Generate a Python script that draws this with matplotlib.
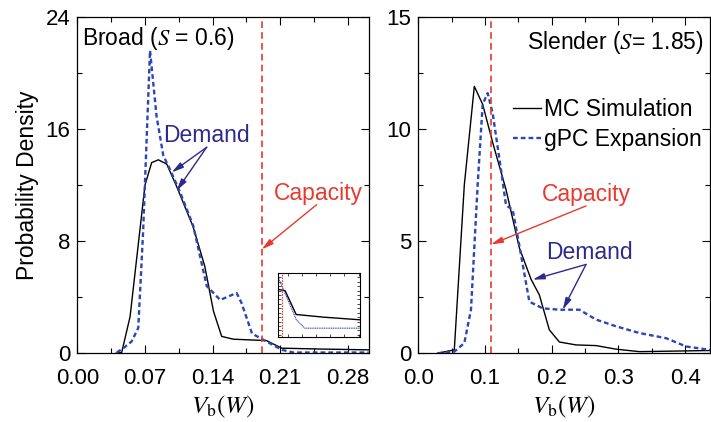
import matplotlib

matplotlib.use("Agg")
import matplotlib.pyplot as plt
from matplotlib.ticker import MultipleLocator

plt.rcParams["font.family"] = ["Liberation Sans", "DejaVu Sans"]
plt.rcParams["mathtext.fontset"] = "stix"

# broad case (S = 0.6)
broad_mc_x = [0.040, 0.0458, 0.0545, 0.070, 0.0769, 0.0838, 0.0925, 0.1028, 0.120, 0.132,
              0.141, 0.1495, 0.1616, 0.196, 0.2117, 0.25, 0.302]
broad_mc_y = [0.0, 0.05, 2.6, 12.0, 13.6, 13.8, 13.5, 11.9, 9.0, 6.2,
              3.0, 1.2, 1.0, 0.9, 0.36, 0.3, 0.24]
broad_gpc_x = [0.0407, 0.0475, 0.056, 0.063, 0.068, 0.0752, 0.082, 0.089, 0.096, 0.1063,
               0.120, 0.134, 0.148, 0.165, 0.170, 0.181, 0.193, 0.212, 0.224, 0.302]
broad_gpc_y = [0.05, 0.36, 0.83, 1.8, 8.6, 21.6, 16.9, 14.1, 13.1, 11.5,
               9.1, 4.8, 3.8, 4.3, 3.6, 1.4, 0.95, 0.24, 0.05, 0.05]
broad_capacity = 0.191

# slender case (S = 1.85)
slender_mc_x = [0.029, 0.054, 0.069, 0.084, 0.0965, 0.1115, 0.1315, 0.1515, 0.169, 0.1815,
                0.1965, 0.2115, 0.2365, 0.2665, 0.2965, 0.3315, 0.437]
slender_mc_y = [0.0, 0.15, 7.5, 11.9, 11.1, 9.4, 7.3, 4.7, 3.3, 2.6,
                1.04, 0.5, 0.37, 0.34, 0.18, 0.07, 0.12]
slender_gpc_x = [0.029, 0.054, 0.069, 0.079, 0.089, 0.0965, 0.104, 0.1115, 0.1215, 0.1315,
                 0.1415, 0.1515, 0.1665, 0.1865, 0.2115, 0.2415, 0.2665, 0.2965, 0.3315, 0.3715,
                 0.4015, 0.437]
slender_gpc_y = [0.0, 0.07, 0.45, 1.94, 7.5, 11.1, 11.6, 10.7, 8.7, 6.6,
                 6.4, 4.8, 2.3, 2.0, 1.94, 1.94, 1.5, 1.2, 0.9, 0.67,
                 0.3, 0.15]
slender_capacity = 0.109

BLACK = "black"
BLUE = "#2b47b3"
RED = "#e8392f"
PURPLE = "#2e2a8c"
FS = 16      # tick labels
TFS = 16.5   # annotations and titles


def style_axes(ax, xmaj, xmin, ymaj, ymin):
    ax.xaxis.set_major_locator(MultipleLocator(xmaj))
    ax.xaxis.set_minor_locator(MultipleLocator(xmin))
    ax.yaxis.set_major_locator(MultipleLocator(ymaj))
    ax.yaxis.set_minor_locator(MultipleLocator(ymin))
    ax.tick_params(which="both", direction="in", top=True, right=True, labelsize=FS)
    ax.tick_params(which="major", length=6, width=0.8)
    ax.tick_params(which="minor", length=3.5, width=0.8)
    ax.tick_params(axis="x", pad=11)
    ax.tick_params(axis="y", pad=5)
    for sp in ax.spines.values():
        sp.set_linewidth(0.9)


def arrow(ax, tail, head, color):
    ax.annotate("", xy=head, xytext=tail,
                arrowprops=dict(arrowstyle="-|>,head_length=0.7,head_width=0.18",
                                color=color, lw=1.0, shrinkA=0, shrinkB=0))


fig = plt.figure(figsize=(7.11, 4.22), dpi=100)
ax1 = fig.add_axes([0.109, 0.163, 0.4096, 0.797])
ax2 = fig.add_axes([0.5883, 0.163, 0.41, 0.797])

# left panel
ax1.plot(broad_mc_x, broad_mc_y, color=BLACK, lw=1.0)
ax1.plot(broad_gpc_x, broad_gpc_y, color=BLUE, lw=1.7, dashes=(2.0, 1.3))
ax1.axvline(broad_capacity, color=RED, lw=1.2, dashes=(4, 2.5))
ax1.set_xlim(0, 0.302)
ax1.set_ylim(0, 24)
style_axes(ax1, 0.07, 0.035, 8, 4)
ax1.xaxis.set_major_formatter(plt.FuncFormatter(lambda v, p: f"{v:.2f}"))
ax1.set_ylabel("Probability Density", fontsize=TFS, labelpad=5)
ax1.set_xlabel(r"$V_\mathrm{b}(W)$", fontsize=18, labelpad=3)
ax1.text(0.015, 0.935, "Broad ($S$ = 0.6)", transform=ax1.transAxes,
         fontsize=TFS, ha="left", va="center")

ax1.text(0.134, 15.5, "Demand", color=PURPLE, fontsize=TFS, ha="center", va="center")
arrow(ax1, (0.134, 14.7), (0.0977, 12.9), PURPLE)
arrow(ax1, (0.134, 14.7), (0.1028, 11.6), PURPLE)
ax1.text(0.250, 11.4, "Capacity", color=RED, fontsize=TFS, ha="center", va="center")
arrow(ax1, (0.248, 10.6), (0.191, 7.4), RED)

# inset: tail of the broad distributions
axin = fig.add_axes([0.391, 0.2014, 0.1153, 0.1517])
axin.plot(broad_mc_x, broad_mc_y, color=BLACK, lw=1.0)
axin.plot(broad_gpc_x, broad_gpc_y, color=BLUE, lw=0.8, dashes=(1, 0.6))
axin.axvline(broad_capacity, color=RED, lw=0.8, dashes=(1.5, 1))
axin.set_xlim(0.186, 0.302)
axin.set_ylim(-0.15, 1.3)
axin.xaxis.set_major_locator(MultipleLocator(0.02))
axin.yaxis.set_major_locator(MultipleLocator(0.1))
axin.tick_params(direction="in", top=True, right=True, length=2, width=0.5,
                 labelbottom=False, labelleft=False)
for sp in axin.spines.values():
    sp.set_linewidth(0.8)

# right panel
ax2.plot(slender_mc_x, slender_mc_y, color=BLACK, lw=1.0, label="MC Simulation")
ax2.plot(slender_gpc_x, slender_gpc_y, color=BLUE, lw=1.7, dashes=(2.0, 1.3),
         label="gPC Expansion")
ax2.axvline(slender_capacity, color=RED, lw=1.2, dashes=(4, 2.5))
ax2.set_xlim(0, 0.437)
ax2.set_ylim(0, 15)
style_axes(ax2, 0.1, 0.05, 5, 2.5)
ax2.xaxis.set_major_formatter(plt.FuncFormatter(lambda v, p: f"{v:.1f}"))
ax2.set_xlabel(r"$V_\mathrm{b}(W)$", fontsize=18, labelpad=3)
ax2.text(0.978, 0.925, "Slender ($S$= 1.85)", transform=ax2.transAxes,
         fontsize=TFS, ha="right", va="center")
ax2.legend(loc="upper right", bbox_to_anchor=(1.005, 0.785), frameon=False,
           fontsize=TFS, handlelength=1.2, handletextpad=0.15, labelspacing=0.3,
           borderaxespad=0)

ax2.text(0.2515, 7.1, "Capacity", color=RED, fontsize=TFS, ha="center", va="center")
arrow(ax2, (0.2515, 6.57), (0.109, 4.85), RED)
ax2.text(0.2565, 4.5, "Demand", color=PURPLE, fontsize=TFS, ha="center", va="center")
arrow(ax2, (0.2515, 3.96), (0.1715, 3.28), PURPLE)
arrow(ax2, (0.2515, 3.96), (0.2165, 1.94), PURPLE)

fig.savefig("out.png", dpi=100)
